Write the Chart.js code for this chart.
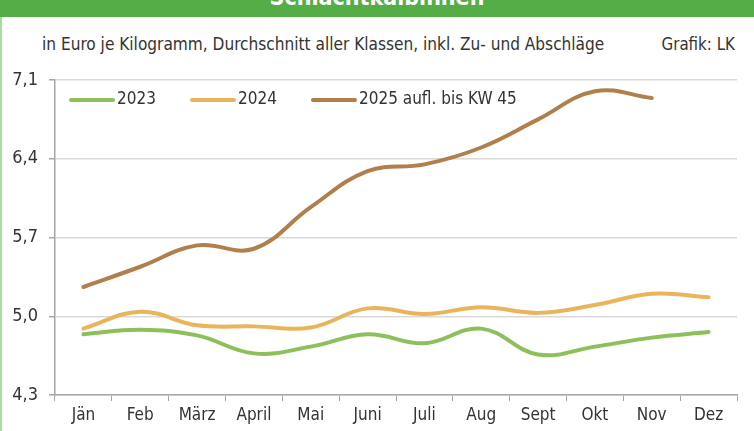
<!DOCTYPE html>
<html>
<head>
<meta charset="utf-8">
<script src="https://cdn.jsdelivr.net/npm/chart.js@4.4.1/dist/chart.umd.min.js"></script>
<style>
  html, body { margin: 0; padding: 0; background: #fff; }
  body { width: 754px; height: 431px; position: relative; overflow: hidden;
         font-family: 'Liberation Sans Narrow', 'DejaVu Sans Condensed', sans-serif; }
  #head { position: absolute; left: 0; top: 0; width: 754px; height: 17px; background: #55ad47;
          overflow: hidden; }
  #head span { position: absolute; left: 0; width: 754px; top: -18px; text-align: center;
               color: #fff; font-weight: bold; font-size: 23px; line-height: 30px; }
  #edge { position: absolute; left: 0; top: 17px; width: 2px; height: 414px; background: #a9dca1; }
  #sub { position: absolute; left: 42px; top: 33px; font-size: 18px; color: #333; white-space: nowrap;
         transform: scaleX(0.95); transform-origin: left center; }
  #src { position: absolute; right: 19px; top: 33px; font-size: 18px; color: #333;
         transform: scaleX(0.93); transform-origin: right center; }
  #wrap { position: absolute; left: 0; top: 0; width: 754px; height: 431px; }
</style>
</head>
<body>
<div id="head"><span>Schlachtkälbinnen</span></div>
<div id="edge"></div>
<div id="sub">in Euro je Kilogramm, Durchschnitt aller Klassen, inkl. Zu- und Abschläge</div>
<div id="src">Grafik: LK</div>
<div id="wrap"><canvas id="c" width="754" height="431"></canvas></div>
<script>
const months = ['Jän', 'Feb', 'März', 'April', 'Mai', 'Juni', 'Juli', 'Aug', 'Sept', 'Okt', 'Nov', 'Dez'];
const yTicks = [4.3, 5.0, 5.7, 6.4, 7.1];

const v2023 = [4.84, 4.88, 4.83, 4.67, 4.73, 4.84, 4.76, 4.89, 4.66, 4.73, 4.81, 4.86];
const v2024 = [4.89, 5.04, 4.92, 4.91, 4.90, 5.07, 5.02, 5.08, 5.03, 5.10, 5.20, 5.17];
const v2025 = [5.26, 5.44, 5.63, 5.60, 5.97, 6.29, 6.35, 6.50, 6.75, 7.00, 6.94, null];

const FONT = "'Liberation Sans Narrow', 'DejaVu Sans Condensed', sans-serif";

// legend drawn inside the plot area
const innerLegend = {
  id: 'innerLegend',
  afterDatasetsDraw(chart) {
    const ctx = chart.ctx;
    const a = chart.chartArea;
    let x = a.left + 16;
    const y = a.top + 20;
    ctx.save();
    ctx.font = '17px ' + FONT;
    ctx.textBaseline = 'middle';
    chart.data.datasets.forEach(ds => {
      ctx.strokeStyle = ds.borderColor;
      ctx.lineWidth = 4;
      ctx.lineCap = 'round';
      ctx.beginPath();
      ctx.moveTo(x, y);
      ctx.lineTo(x + 42, y);
      ctx.stroke();
      ctx.fillStyle = '#333';
      ctx.fillText(ds.label, x + 46, y);
      x += 121;
    });
    ctx.restore();
  }
};

new Chart(document.getElementById('c'), {
  type: 'line',
  data: {
    labels: months,
    datasets: [
      { label: '2023', data: v2023, borderColor: '#8dbf5a' },
      { label: '2024', data: v2024, borderColor: '#e9b45c' },
      { label: '2025 aufl. bis KW 45', data: v2025, borderColor: '#b07f4b' },
    ].map(d => ({ ...d, borderWidth: 4, tension: 0.4, pointRadius: 0, fill: false, borderCapStyle: 'round', spanGaps: false }))
  },
  options: {
    responsive: false,
    animation: false,
    layout: { padding: { top: 80, right: 17, left: 0, bottom: 0 } },
    plugins: { legend: { display: false }, tooltip: { enabled: false } },
    scales: {
      x: {
        offset: true,
        grid: { offset: true, display: true, drawOnChartArea: false, color: '#a6a6a6', tickLength: 6 },
        border: { color: '#a6a6a6', width: 1.5 },
        ticks: { color: '#333', font: { family: FONT, size: 17 }, padding: 4, maxRotation: 0 },
        afterFit: s => { s.height = 36; }
      },
      y: {
        min: 4.3, max: 7.1,
        afterBuildTicks: s => { s.ticks = yTicks.map(v => ({ value: v })); },
        grid: { color: '#d9d9d9', lineWidth: 1.5, tickLength: 6, tickColor: '#a6a6a6' },
        border: { color: '#a6a6a6', width: 1.5 },
        ticks: { color: '#333', font: { family: FONT, size: 18 }, padding: 11,
                 callback: v => v.toFixed(1).replace('.', ',') },
        afterFit: s => { s.width = 55; }
      }
    }
  },
  plugins: [innerLegend]
});
</script>
</body>
</html>
